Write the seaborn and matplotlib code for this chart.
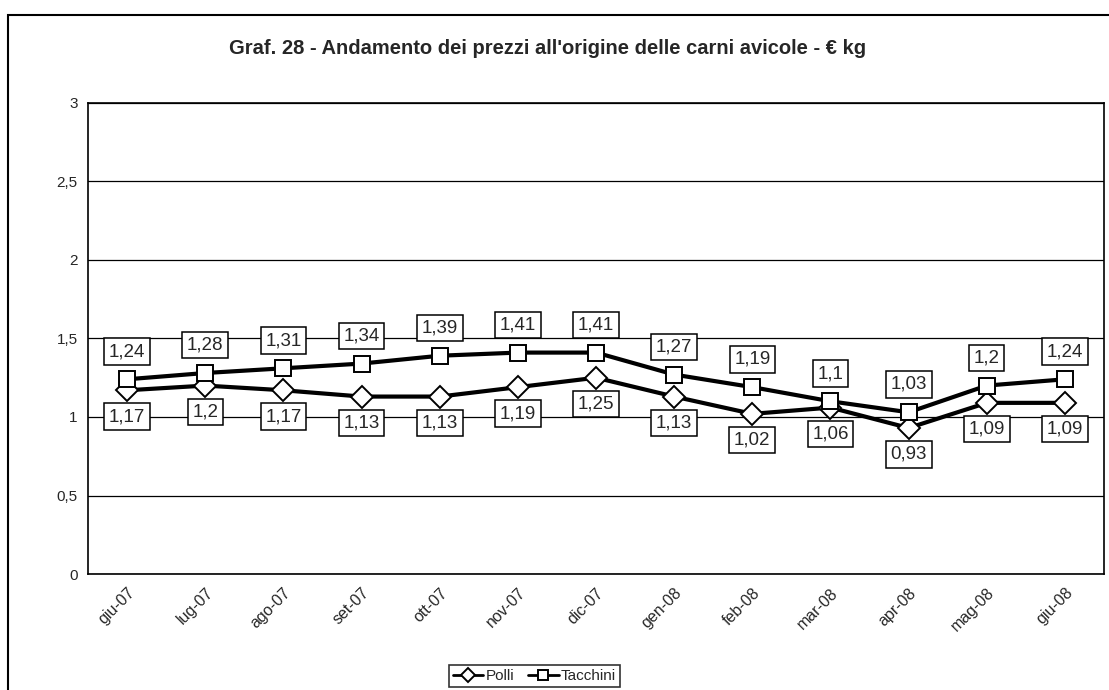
import matplotlib
matplotlib.use("Agg")
import matplotlib.pyplot as plt
import seaborn as sns
import pandas as pd
from matplotlib.ticker import FuncFormatter, FixedLocator

# dati
mesi = ['giu-07', 'lug-07', 'ago-07', 'set-07', 'ott-07', 'nov-07', 'dic-07',
        'gen-08', 'feb-08', 'mar-08', 'apr-08', 'mag-08', 'giu-08']
polli = [1.17, 1.2, 1.17, 1.13, 1.13, 1.19, 1.25, 1.13, 1.02, 1.06, 0.93, 1.09, 1.09]
tacchini = [1.24, 1.28, 1.31, 1.34, 1.39, 1.41, 1.41, 1.27, 1.19, 1.1, 1.03, 1.2, 1.24]

sns.set_style("white")
plt.rcParams['font.family'] = ['Liberation Sans', 'DejaVu Sans']

df = pd.DataFrame({'pos': range(len(mesi)), 'Polli': polli, 'Tacchini': tacchini})

fig = plt.figure(figsize=(11.09, 6.9), dpi=100)
ax = fig.add_axes([0.0794, 0.168, 0.9161, 0.683])


def virgola(v):
    return ('%g' % v).replace('.', ',')


for serie, mk in [('Polli', 'D'), ('Tacchini', 's')]:
    sns.lineplot(data=df, x='pos', y=serie, ax=ax, color='black', linewidth=3,
                 marker=mk, markersize=12 if mk == 's' else 11,
                 markerfacecolor='white', markeredgecolor='black',
                 markeredgewidth=1.4, label=serie, zorder=3)

# etichette dati
for i in range(len(mesi)):
    ax.annotate(virgola(tacchini[i]), (i, tacchini[i]), xytext=(0, 20),
                textcoords='offset points', ha='center', va='center', fontsize=13.5,
                bbox=dict(boxstyle='square,pad=0.25', fc='white', ec='black', lw=1.1),
                zorder=5)
    ax.annotate(virgola(polli[i]), (i, polli[i]), xytext=(0, -19),
                textcoords='offset points', ha='center', va='center', fontsize=13.5,
                bbox=dict(boxstyle='square,pad=0.25', fc='white', ec='black', lw=1.1),
                zorder=5)

ax.set_xlim(-0.5, len(mesi) - 0.5)
ax.set_ylim(0, 3)
ax.set_yticks([0, 0.5, 1, 1.5, 2, 2.5, 3])
ax.yaxis.set_major_formatter(FuncFormatter(lambda v, p: virgola(v)))
ax.grid(axis='y', color='black', linewidth=0.9)
ax.set_axisbelow(True)

ax.set_xticks(range(len(mesi)))
ax.set_xticklabels(mesi, rotation=45, ha='right', rotation_mode='anchor', fontsize=11.5)
ax.xaxis.set_minor_locator(FixedLocator([k - 0.5 for k in range(len(mesi) + 1)]))
ax.tick_params(axis='x', which='major', length=0, pad=8)
ax.tick_params(axis='x', which='minor', length=4, width=1, color='black', direction='out')
ax.tick_params(axis='y', length=4, width=1, color='black', direction='out', labelsize=11)
ax.set_xlabel('')
ax.set_ylabel('')

for s in ax.spines.values():
    s.set_color('black')
    s.set_linewidth(1.2)

ax.get_legend().remove()
h, l = ax.get_legend_handles_labels()
leg = fig.legend(h, l, loc='center', bbox_to_anchor=(0.482, 0.02), ncol=2,
                 fontsize=11, frameon=True, fancybox=False, edgecolor='black',
                 borderpad=0.25, handlelength=2.0, columnspacing=0.9,
                 handletextpad=0.15, markerscale=0.65)
leg.get_frame().set_linewidth(1.2)
for ln in leg.get_lines():
    ln.set_linewidth(2)

fig.text(0.494, 0.930, "Graf. 28 - Andamento dei prezzi all'origine delle carni avicole - € kg",
         ha='center', va='center', fontsize=14.5, fontweight='bold')

# cornice del grafico
fig.add_artist(plt.Rectangle((0.0072, -0.1), 1.2, 1.0783, transform=fig.transFigure,
                             fill=False, edgecolor='black', linewidth=1.5))

fig.savefig('out.png', dpi=100)
